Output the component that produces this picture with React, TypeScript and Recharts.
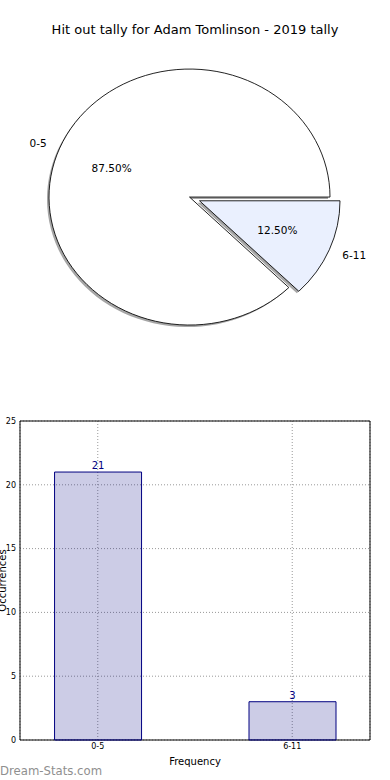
import {
  PieChart,
  Pie,
  Cell,
  BarChart,
  Bar,
  XAxis,
  YAxis,
  CartesianGrid,
  LabelList,
  ReferenceArea,
} from "recharts";

const ranges = ["0-5", "6-11"];
const counts = [21, 3];
const sliceFills = ["#ffffff", "#eaf0fe"];
const yTicks = [0, 5, 10, 15, 20, 25];

const FONT = "'DejaVu Sans', sans-serif";
const SY = 0.911; // pie is drawn as an ellipse
const CX = 189.5;
const CY = 216.3;
const R = 140.5;
// explode / shadow offsets per slice (unscaled px)
const slicePos = [
  { dx: 0, dy: 0 },
  { dx: 10, dy: 4.1 },
];

const pieData = ranges.map((r, i) => ({ name: r, value: counts[i] }));
const barData = ranges.map((r, i) => ({ x: i, name: r, value: counts[i] }));

const unsquash = (x: number, y: number) =>
  `translate(${x} ${y}) scale(1 ${1 / SY}) translate(${-x} ${-y})`;

const makeLabel = (vis: number) => (p: any) => {
  if (p.index !== vis) return null;
  const rad = (-p.midAngle * Math.PI) / 180;
  const c = Math.cos(rad);
  const s = Math.sin(rad);
  const lx = p.cx + p.outerRadius * 1.1 * c;
  const ly = p.cy + p.outerRadius * 1.1 * s;
  const px = p.cx + p.outerRadius * 0.6 * c;
  const py = p.cy + p.outerRadius * 0.6 * s;
  return (
    <g>
      <text
        x={lx}
        y={ly}
        textAnchor={lx > p.cx ? "start" : "end"}
        dominantBaseline="central"
        transform={unsquash(lx, ly)}
        fontSize={10.5}
        fontFamily={FONT}
        fill="#000"
      >
        {p.name}
      </text>
      <text
        x={px}
        y={py}
        textAnchor="middle"
        dominantBaseline="central"
        transform={unsquash(px, py)}
        fontSize={10.5}
        fontFamily={FONT}
        fill="#000"
      >
        {(p.percent * 100).toFixed(2)}%
      </text>
    </g>
  );
};

function PieLayers() {
  const layers: any[] = [];
  slicePos.forEach((pos, vis) => {
    // shadow
    layers.push(
      <Pie
        key={`s${vis}`}
        data={pieData}
        dataKey="value"
        cx={CX + pos.dx - 2}
        cy={CY + pos.dy + 2.2}
        outerRadius={R}
        startAngle={0}
        endAngle={360}
        isAnimationActive={false}
        labelLine={false}
      >
        {pieData.map((_, i) => (
          <Cell
            key={i}
            fill={i === vis ? "#4d4d4d" : "transparent"}
            fillOpacity={i === vis ? 0.5 : 0}
            stroke="none"
          />
        ))}
      </Pie>
    );
    layers.push(
      <Pie
        key={`p${vis}`}
        data={pieData}
        dataKey="value"
        cx={CX + pos.dx}
        cy={CY + pos.dy}
        outerRadius={R}
        startAngle={0}
        endAngle={360}
        isAnimationActive={false}
        labelLine={false}
        label={makeLabel(vis)}
      >
        {pieData.map((_, i) => (
          <Cell
            key={i}
            fill={i === vis ? sliceFills[i] : "transparent"}
            stroke={i === vis ? "#000" : "none"}
            strokeWidth={0.9}
          />
        ))}
      </Pie>
    );
  });
  return layers;
}

const yLabel = (props: any) => {
  const vb = props.viewBox || { x: 0, y: 21, width: 20, height: 319 };
  const y = vb.y + vb.height / 2;
  return (
    <text
      x={2}
      y={y}
      transform={`rotate(-90 2 ${y})`}
      textAnchor="middle"
      dominantBaseline="central"
      fontSize={10}
      fontFamily={FONT}
      fill="#000"
    >
      Occurrences
    </text>
  );
};

export default function App() {
  return (
    <div
      style={{
        position: "absolute",
        left: 0,
        top: 0,
        width: 390,
        height: 780,
        background: "#fff",
        overflow: "hidden",
        fontFamily: FONT,
      }}
    >
      <div
        style={{
          position: "absolute",
          left: 0,
          top: 0,
          width: 390,
          height: 450,
          transform: `scaleY(${SY})`,
          transformOrigin: "0 0",
        }}
      >
        <PieChart width={390} height={450} margin={{ top: 0, right: 0, bottom: 0, left: 0 }}>
          {PieLayers()}
        </PieChart>
      </div>
      <div
        style={{
          position: "absolute",
          left: 0,
          top: 21,
          width: 390,
          textAlign: "center",
          fontSize: 13,
          lineHeight: "18px",
          color: "#000",
        }}
      >
        Hit out tally for Adam Tomlinson - 2019 tally
      </div>
      <div style={{ position: "absolute", left: 0, top: 400 }}>
        <BarChart
          width={390}
          height={380}
          data={barData}
          margin={{ top: 21, right: 20, bottom: 20, left: 0 }}
        >
          <CartesianGrid stroke="#999" strokeDasharray="1 2" />
          <XAxis
            type="number"
            dataKey="x"
            domain={[-0.4, 1.4]}
            ticks={[0, 1]}
            tickFormatter={(v: number) => ranges[v]}
            height={20}
            axisLine={false}
            tickLine={false}
            tickSize={0}
            tickMargin={3}
            tick={{ fontSize: 8, fill: "#000", fontFamily: FONT }}
            label={{
              value: "Frequency",
              position: "insideBottom",
              offset: -5,
              fontSize: 10,
              fill: "#000",
              fontFamily: FONT,
            }}
          />
          <YAxis
            type="number"
            domain={[0, 25]}
            ticks={yTicks}
            width={20}
            axisLine={false}
            tickLine={false}
            tickSize={0}
            tickMargin={4}
            tick={{ fontSize: 8, fill: "#000", fontFamily: FONT }}
            label={yLabel}
          />
          <Bar
            dataKey="value"
            barSize={87}
            fill="#000080"
            fillOpacity={0.2}
            stroke="#000080"
            strokeWidth={1}
            isAnimationActive={false}
          >
            <LabelList
              dataKey="value"
              position="top"
              offset={3}
              fill="#000080"
              fontSize={10}
              fontFamily={FONT}
            />
          </Bar>
          <ReferenceArea
            x1={-0.4}
            x2={1.4}
            y1={0}
            y2={25}
            fill="none"
            stroke="#000"
            strokeWidth={1}
          />
        </BarChart>
      </div>
      <div
        style={{
          position: "absolute",
          left: 0,
          top: 763,
          fontSize: 11.7,
          lineHeight: "16px",
          color: "#8f8f8f",
        }}
      >
        Dream-Stats.com
      </div>
    </div>
  );
}
